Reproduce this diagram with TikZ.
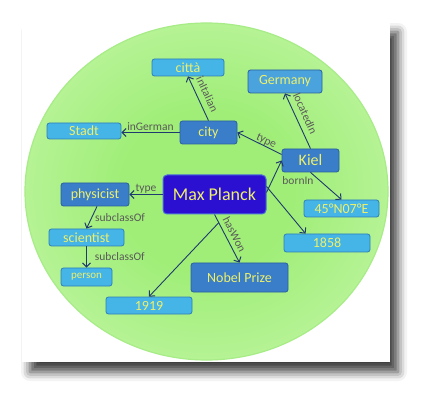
\documentclass[tikz,border=0pt]{standalone}
\usepackage{fontspec}
\setmainfont{Carlito}
\usetikzlibrary{arrows.meta,shadows.blur,calc}
\definecolor{lbfill}{HTML}{45B4E6}
\definecolor{lbdraw}{HTML}{2F7FB6}
\definecolor{mbfill}{HTML}{4AA3DD}
\definecolor{dbfill}{HTML}{3A7DC8}
\definecolor{dbdraw}{HTML}{2A5F9E}
\definecolor{mpfill}{HTML}{2B10D2}
\definecolor{mpdraw}{HTML}{4A70D8}
\definecolor{ytext}{HTML}{EEF06A}
\definecolor{labgray}{HTML}{595959}
\definecolor{arrcol}{HTML}{1F3A6E}
\definecolor{gIn}{HTML}{A0EE78}
\definecolor{gMid}{HTML}{C4F6A8}
\definecolor{gOut}{HTML}{E4FCDC}
\definecolor{gEdge}{HTML}{A8EC88}
\pgfdeclareradialshading{greenglow}{\pgfpoint{0bp}{0bp}}{color(0bp)=(gIn); color(12bp)=(gIn); color(34bp)=(gMid); color(50bp)=(gOut); color(100bp)=(gOut)}
\begin{document}
\begin{tikzpicture}[x=1pt,y=-1pt,
  boxbase/.style={rounded corners=2.5pt, text=ytext, font=\fontsize{14}{16}\selectfont, inner sep=0pt, line width=0.8pt},
  lbox/.style={boxbase, draw=lbdraw, fill=lbfill},
  mbox/.style={boxbase, draw=dbdraw, fill=mbfill},
  dbox/.style={boxbase, draw=dbdraw, fill=dbfill},
  mpbox/.style={boxbase, draw=mpdraw, fill=mpfill, line width=1pt, rounded corners=4pt, font=\fontsize{18}{20}\selectfont},
  lab/.style={text=labgray, font=\fontsize{11.5}{13}\selectfont, inner sep=1pt},
  rlab/.style={lab, anchor=south, rotate=#1},
  arr/.style={-{Straight Barb[length=4pt,width=8pt,line width=1pt]}, draw=arrcol, line width=0.9pt}]
\useasboundingbox (0,0) rectangle (432,404);
% panel with shadow
\fill[white, blur shadow={shadow xshift=8pt, shadow yshift=-10pt, shadow blur radius=9pt, shadow opacity=75}] (22,22) rectangle (390,362);
% green disc
\shade[shading=greenglow] (206.5,191.5) ellipse [x radius=181.5pt, y radius=168.5pt];
\draw[gEdge, line width=1.2pt] (206.5,191.5) ellipse [x radius=181.5pt, y radius=168.5pt];
% nodes
\node[lbox, minimum width=72pt, minimum height=17pt] (citta) at (188,67.5) {città};
\node[mbox, minimum width=74pt, minimum height=23pt] (germany) at (285,81.5) {Germany};
\node[lbox, minimum width=74pt, minimum height=16pt] (stadt) at (84,131) {Stadt};
\node[dbox, minimum width=57pt, minimum height=23pt] (city) at (208.5,132.5) {city};
\node[dbox, minimum width=57pt, minimum height=23pt, font=\fontsize{16}{18}\selectfont] (kiel) at (310.5,160.5) {Kiel};
\node[mpbox, minimum width=103pt, minimum height=39pt] (mp) at (214.5,194.5) {Max Planck};
\node[dbox, minimum width=68pt, minimum height=23pt] (phys) at (95,194.5) {physicist};
\node[lbox, minimum width=75pt, minimum height=17pt] (sci) at (86.5,237.5) {scientist};
\node[lbox, minimum width=51pt, minimum height=18pt, font=\fontsize{11}{13}\selectfont] (person) at (86.5,277) {person};
\node[lbox, minimum width=86pt, minimum height=17pt] (y1919) at (149,305.5) {1919};
\node[dbox, minimum width=97pt, minimum height=29pt] (nobel) at (239.5,277.5) {Nobel Prize};
\node[lbox, minimum width=75pt, minimum height=17pt] (geo) at (341.5,208.5) {45°N07°E};
\node[lbox, minimum width=86pt, minimum height=18pt] (y1858) at (327,243) {1858};
% edges
\draw[arr] (city.north) -- node[rlab=-65.5, inner sep=5.5pt] {inItalian} (citta.south);
\draw[arr] (city.west) -- node[lab, above] {inGerman} (city.west -| stadt.east);
\draw[arr] ($(kiel.west)+(0,-6)$) -- node[rlab=-26, inner sep=0pt, pos=0.4] {type} (city.east);
\draw[arr] (kiel.north) -- node[rlab=-65.5, inner sep=5.5pt, pos=0.56] {locatedIn} (germany.south);
\draw[arr] (kiel.south) -- (geo.north);
\draw[arr] ($(mp.east)+(0,-2)$) -- (kiel.west);
\node[lab] (bornlbl) at (298,181) {bornIn};
\draw[arr] ($(mp.north east)!0.3!(mp.south east)$) -- ($(y1858.north west)+(22,0)$);
\draw[arr] (mp.west) -- node[lab, above] {type} (phys.east);
\draw[arr] ($(phys.south)+(2,0)$) -- node[lab, right=2pt] {subclassOf} (sci.north);
\draw[arr] (sci.south) -- node[lab, right=7pt] {subclassOf} (person.north);
\draw[arr] (mp.south) -- node[rlab=-63, inner sep=4pt] {hasWon} coordinate[pos=0.17] (br) (nobel.north);
\draw[arr] (br) -- (y1919.north);
\end{tikzpicture}
\end{document}
